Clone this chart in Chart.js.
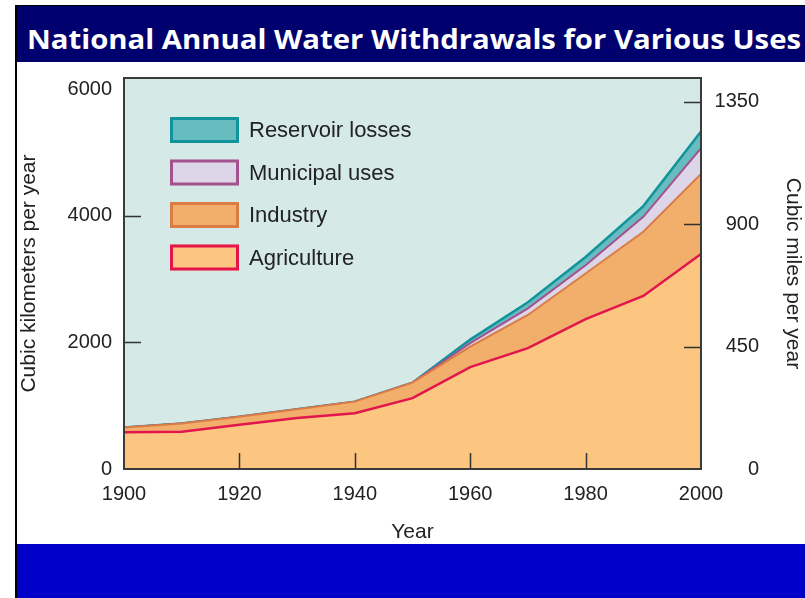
<!DOCTYPE html>
<html>
<head>
<meta charset="utf-8">
<title>National Annual Water Withdrawals for Various Uses</title>
<script src="https://cdn.jsdelivr.net/npm/chart.js@4.4.1/dist/chart.umd.min.js"></script>
<style>
  html, body { margin: 0; padding: 0; background: #fff; }
  body { width: 805px; height: 598px; position: relative; overflow: hidden; }
  #leftRule { position: absolute; left: 15px; top: 5px; width: 2px; height: 593px; background: #000; }
  #titleBar { position: absolute; left: 17px; top: 5px; width: 788px; height: 57px; background: #00006e; border-top: 1px solid #000; box-sizing: border-box; overflow: hidden; }
  #titleText { position: absolute; left: 10px; top: 5px; color: #fff; font: bold 26px "Open Sans", sans-serif; line-height: 56px; white-space: nowrap; transform-origin: left center; }
  #footBar { position: absolute; left: 17px; top: 544px; width: 788px; height: 54px; background: #0000c8; }
  #chart { position: absolute; left: 0; top: 0; }
</style>
</head>
<body>
<div id="leftRule"></div>
<div id="titleBar"><div id="titleText">National Annual Water Withdrawals for Various Uses</div></div>
<div id="footBar"></div>
<canvas id="chart" width="805" height="598"></canvas>
<script>
// valores (km³ por año, apilados)
const years = [1900, 1910, 1920, 1930, 1940, 1950, 1960, 1970, 1980, 1990, 2000];
const agriculture = [580, 590, 700, 805, 880, 1120, 1610, 1910, 2370, 2735, 3400];
const industry = [75, 130, 125, 140, 185, 245, 325, 525, 720, 1015, 1265];
const municipal = [0, 0, 0, 0, 0, 0, 55, 105, 130, 235, 405];
const reservoir = [0, 0, 0, 0, 0, 0, 55, 95, 130, 170, 265];

const yearTicks = [1900, 1920, 1940, 1960, 1980, 2000];
const kmTicks = [0, 2000, 4000, 6000];
const miTicks = [0, 450, 900, 1350];
const kmMax = 6180;
const miMax = 1438;

const FONT = '"Liberation Sans", Arial, sans-serif';
const INK = '#222';

// título ajustado al ancho de la banda
(() => {
    const t = document.getElementById('titleText');
    const w = t.getBoundingClientRect().width;
    t.style.transform = `scaleX(${774 / w})`;
})();

const toPts = (arr) => arr.map((v, i) => ({ x: years[i], y: v }));
const setTicks = (list) => (axis) => { axis.ticks = list.map(v => ({ value: v })); };
const plain = (v) => String(v);

// fondo del área de trazado
const plotBg = {
    id: 'plotBg',
    beforeDraw(chart) {
        const { ctx, chartArea: a } = chart;
        ctx.save();
        ctx.fillStyle = '#d5e9e6';
        ctx.fillRect(a.left, a.top, a.right - a.left, a.bottom - a.top);
        ctx.restore();
    }
};

// marco y marcas hacia dentro
const frameTicks = {
    id: 'frameTicks',
    afterDatasetsDraw(chart) {
        const { ctx, chartArea: a, scales } = chart;
        ctx.save();
        ctx.strokeStyle = '#333';
        ctx.lineWidth = 1.5;
        ctx.beginPath();
        yearTicks.slice(1, -1).forEach(v => {
            const x = Math.round(scales.x.getPixelForValue(v)) + 0.5;
            ctx.moveTo(x, a.bottom); ctx.lineTo(x, a.bottom - 16);
        });
        kmTicks.slice(1, -1).forEach(v => {
            const y = Math.round(scales.y.getPixelForValue(v)) + 0.5;
            ctx.moveTo(a.left, y); ctx.lineTo(a.left + 17, y);
        });
        miTicks.slice(1).forEach(v => {
            const y = Math.round(scales.y2.getPixelForValue(v)) + 0.5;
            ctx.moveTo(a.right, y); ctx.lineTo(a.right - 17, y);
        });
        ctx.stroke();
        ctx.strokeStyle = '#3a3a3a';
        ctx.lineWidth = 2;
        ctx.strokeRect(a.left, a.top, a.right - a.left, a.bottom - a.top);
        ctx.restore();
    }
};

// leyenda dentro del área
const insideLegend = {
    id: 'insideLegend',
    afterDraw(chart) {
        const { ctx, chartArea: a } = chart;
        const sets = chart.data.datasets.slice().reverse();
        ctx.save();
        ctx.font = `22px ${FONT}`;
        ctx.textBaseline = 'middle';
        sets.forEach((ds, i) => {
            const x = a.left + 46, y = a.top + 39 + i * 42.5, w = 69, h = 26;
            ctx.fillStyle = ds.backgroundColor;
            ctx.fillRect(x, y, w, h);
            ctx.strokeStyle = ds.borderColor;
            ctx.lineWidth = 3;
            ctx.strokeRect(x + 1.5, y + 1.5, w - 3, h - 3);
            ctx.fillStyle = INK;
            ctx.fillText(ds.label, x + w + 10, y + h / 2 + 1);
        });
        ctx.restore();
    }
};

new Chart(document.getElementById('chart'), {
    type: 'line',
    data: {
        datasets: [
            { label: 'Agriculture', data: toPts(agriculture), fill: 'origin',
              backgroundColor: '#fdc680', borderColor: '#e2154d', borderWidth: 2.5 },
            { label: 'Industry', data: toPts(industry), fill: '-1',
              backgroundColor: '#f2ae6b', borderColor: '#d97c45', borderWidth: 2 },
            { label: 'Municipal uses', data: toPts(municipal), fill: '-1',
              backgroundColor: '#dcd6e8', borderColor: '#a4528e', borderWidth: 2 },
            { label: 'Reservoir losses', data: toPts(reservoir), fill: '-1',
              backgroundColor: '#67bcc0', borderColor: '#10939a', borderWidth: 2.5 }
        ]
    },
    options: {
        responsive: false,
        devicePixelRatio: 1,
        animation: false,
        elements: { point: { radius: 0 }, line: { tension: 0 } },
        layout: { padding: { top: 78, right: 46, bottom: 0, left: 0 } },
        plugins: { legend: { display: false }, tooltip: { enabled: false } },
        scales: {
            x: {
                type: 'linear', min: 1900, max: 2000,
                afterBuildTicks: setTicks(yearTicks),
                afterFit: (s) => { s.height = 129; },
                grid: { display: false, drawTicks: false },
                border: { display: false },
                ticks: { autoSkip: false, maxRotation: 0, padding: 13, color: INK,
                         font: { family: FONT, size: 20 }, callback: plain },
                title: { display: true, text: 'Year', color: INK,
                         font: { family: FONT, size: 21 }, padding: { top: 0, bottom: 53 } }
            },
            y: {
                stacked: true, min: 0, max: kmMax, position: 'left',
                afterBuildTicks: setTicks(kmTicks),
                afterFit: (s) => { s.width = 124; },
                grid: { display: false, drawTicks: false },
                border: { display: false },
                ticks: { padding: 12, color: INK, font: { family: FONT, size: 20 }, callback: plain },
                title: { display: true, text: 'Cubic kilometers per year', color: INK,
                         font: { family: FONT, size: 21 }, padding: { top: 17, bottom: 0 } }
            },
            y2: {
                min: 0, max: miMax, position: 'right',
                afterBuildTicks: setTicks(miTicks),
                afterFit: (s) => { s.width = 58; },
                grid: { display: false, drawTicks: false },
                border: { display: false },
                ticks: { crossAlign: 'far', color: INK, font: { family: FONT, size: 20 }, callback: plain },
                title: { display: true, text: 'Cubic miles per year', color: INK,
                         font: { family: FONT, size: 21 }, padding: { top: -46, bottom: 0 } }
            }
        }
    },
    plugins: [plotBg, frameTicks, insideLegend]
});
</script>
</body>
</html>
